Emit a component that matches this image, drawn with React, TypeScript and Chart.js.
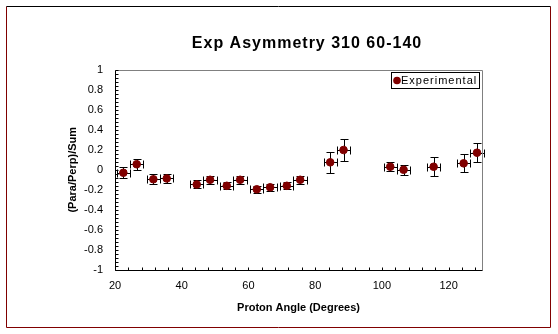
import React, { useEffect, useRef } from "react";
import { Chart, registerables } from "chart.js";

Chart.register(...registerables);

const chartTitle = "Exp Asymmetry 310 60-140";
const seriesLabel = "Experimental";
const xAxisTitle = "Proton Angle (Degrees)";
const yAxisTitle = "(Para/Perp)/Sum";

const angles = [22.5, 26.5, 31.5, 35.5, 44.5, 48.5, 53.5, 57.5, 62.5, 66.5, 71.5, 75.5, 84.5, 88.5, 102.5, 106.5, 115.5, 124.5, 128.5];
const asymmetry = [-0.03, 0.055, -0.095, -0.087, -0.147, -0.1, -0.16, -0.1, -0.195, -0.175, -0.16, -0.1, 0.074, 0.197, 0.03, 0.0, 0.03, 0.064, 0.17];
const asymErr = [0.055, 0.055, 0.05, 0.045, 0.04, 0.04, 0.035, 0.04, 0.035, 0.035, 0.035, 0.04, 0.105, 0.105, 0.045, 0.05, 0.095, 0.09, 0.095];
const angleErr = [2, 2, 2, 2, 2, 2, 2, 2, 2, 2, 2, 2, 2, 2, 2, 2, 2, 2, 2];

const xMin = 20;
const xMax = 130;
const xStep = 20;
const xMinorStep = 4;
const yMin = -1;
const yMax = 1;
const yStep = 0.2;
const yMinorStep = 0.04;

const FONT = "'Liberation Sans', Arial, sans-serif";
const MARKER = "#800000";

const decorPlugin = {
  id: "decor",
  beforeDraw(chart: any) {
    const ctx = chart.ctx;
    ctx.save();
    ctx.fillStyle = "#fff";
    ctx.fillRect(0, 0, chart.width, chart.height);
    ctx.restore();
  },
  beforeDatasetsDraw(chart: any) {
    const ctx = chart.ctx;
    const xs = chart.scales.x;
    const ys = chart.scales.y;
    ctx.save();
    ctx.strokeStyle = "#000";
    ctx.lineWidth = 1;
    const cap = 4;
    angles.forEach((a, i) => {
      const px = Math.round(xs.getPixelForValue(a)) + 0.5;
      const py = Math.round(ys.getPixelForValue(asymmetry[i])) + 0.5;
      const y1 = Math.round(ys.getPixelForValue(asymmetry[i] + asymErr[i])) + 0.5;
      const y2 = Math.round(ys.getPixelForValue(asymmetry[i] - asymErr[i])) + 0.5;
      const x1 = Math.round(xs.getPixelForValue(a - angleErr[i])) + 0.5;
      const x2 = Math.round(xs.getPixelForValue(a + angleErr[i])) + 0.5;
      ctx.beginPath();
      ctx.moveTo(px, y1); ctx.lineTo(px, y2);
      ctx.moveTo(px - cap, y1); ctx.lineTo(px + cap, y1);
      ctx.moveTo(px - cap, y2); ctx.lineTo(px + cap, y2);
      ctx.moveTo(x1, py); ctx.lineTo(x2, py);
      ctx.moveTo(x1, py - cap); ctx.lineTo(x1, py + cap);
      ctx.moveTo(x2, py - cap); ctx.lineTo(x2, py + cap);
      ctx.stroke();
    });
    ctx.restore();
  },
  afterDraw(chart: any) {
    const ctx = chart.ctx;
    const { left, right, top, bottom } = chart.chartArea;
    const xs = chart.scales.x;
    const ys = chart.scales.y;
    ctx.save();
    const L = Math.round(left) + 0.5;
    const R = Math.round(right) + 0.5;
    const T = Math.round(top) + 0.5;
    const B = Math.round(bottom) + 0.5;
    // plot frame
    ctx.lineWidth = 1;
    ctx.strokeStyle = "#808080";
    ctx.beginPath();
    ctx.moveTo(L, T); ctx.lineTo(R, T); ctx.lineTo(R, B);
    ctx.stroke();
    ctx.strokeStyle = "#000";
    ctx.beginPath();
    ctx.moveTo(L, T); ctx.lineTo(L, B); ctx.lineTo(R, B);
    ctx.stroke();
    // inside ticks
    ctx.beginPath();
    for (let v = xMin; v <= xMax + 1e-9; v += xMinorStep) {
      const px = Math.round(xs.getPixelForValue(v)) + 0.5;
      ctx.moveTo(px, B); ctx.lineTo(px, B - 3);
    }
    for (let k = 0; k <= Math.round((yMax - yMin) / yMinorStep); k++) {
      const v = yMin + k * yMinorStep;
      const py = Math.round(ys.getPixelForValue(v)) + 0.5;
      ctx.moveTo(L, py); ctx.lineTo(L + 3, py);
    }
    ctx.stroke();
    // outer frame
    ctx.strokeStyle = MARKER;
    ctx.beginPath();
    ctx.moveTo(6.5, 6.5); ctx.lineTo(6.5, 327.5); ctx.lineTo(550.5, 327.5); ctx.lineTo(550.5, 6.5);
    ctx.stroke();
    ctx.strokeStyle = "#000";
    ctx.beginPath();
    ctx.moveTo(6.5, 6.5); ctx.lineTo(550.5, 6.5);
    ctx.stroke();
    // title
    ctx.fillStyle = "#000";
    ctx.font = `bold 16px ${FONT}`;
    (ctx as any).letterSpacing = "1px";
    ctx.textAlign = "center";
    ctx.textBaseline = "alphabetic";
    ctx.fillText(chartTitle, 307, 48);
    // legend
    (ctx as any).letterSpacing = "1px";
    ctx.fillStyle = "#fff";
    ctx.fillRect(391, 72, 88, 16);
    ctx.strokeStyle = "#000";
    ctx.strokeRect(391.5, 72.5, 88, 16);
    ctx.fillStyle = MARKER;
    ctx.beginPath();
    ctx.arc(397, 80.5, 3.8, 0, Math.PI * 2);
    ctx.fill();
    ctx.fillStyle = "#000";
    ctx.font = `11px ${FONT}`;
    ctx.textAlign = "left";
    ctx.textBaseline = "middle";
    ctx.fillText(seriesLabel, 401, 81);
    ctx.restore();
  },
};

export default function App() {
  const ref = useRef<HTMLCanvasElement | null>(null);
  useEffect(() => {
    if (!ref.current) return;
    const chart = new Chart(ref.current, {
      type: "scatter",
      data: {
        datasets: [
          {
            label: seriesLabel,
            data: angles.map((a, i) => ({ x: a, y: asymmetry[i] })),
            backgroundColor: MARKER,
            borderColor: MARKER,
            pointRadius: 3.8,
            pointHoverRadius: 3.8,
            pointStyle: "circle",
          },
        ],
      },
      options: {
        responsive: false,
        animation: false,
        layout: { padding: { left: 0, right: 76, top: 69.5, bottom: 0 } },
        plugins: {
          legend: { display: false },
          tooltip: { enabled: false },
          title: { display: false },
        },
        scales: {
          x: {
            type: "linear",
            min: xMin,
            max: xMax,
            afterBuildTicks: (s: any) => {
              s.ticks = s.ticks.filter((t: any) => t.value % xStep === 0);
            },
            afterFit: (s: any) => {
              s.height = 64;
            },
            ticks: {
              stepSize: xStep,
              autoSkip: false,
              maxRotation: 0,
              padding: 9,
              color: "#000",
              font: { family: FONT, size: 11 },
            },
            grid: { display: false, drawTicks: false },
            border: { display: false },
            title: {
              display: true,
              text: xAxisTitle,
              color: "#000",
              font: { family: FONT, size: 11, weight: "bold" },
              padding: { top: 0, bottom: 19 },
            },
          },
          y: {
            type: "linear",
            min: yMin,
            max: yMax,
            afterFit: (s: any) => {
              s.width = 115;
            },
            ticks: {
              stepSize: yStep,
              padding: 12,
              color: "#000",
              font: { family: FONT, size: 11 },
              callback: (v: any) => String(Number(Number(v).toFixed(1))),
            },
            grid: { display: false, drawTicks: false },
            border: { display: false },
            title: {
              display: true,
              text: yAxisTitle,
              color: "#000",
              font: { family: FONT, size: 11, weight: "bold" },
              padding: { top: 66, bottom: 0 },
            },
          },
        },
      },
      plugins: [decorPlugin],
    } as any);
    return () => chart.destroy();
  }, []);
  return (
    <div style={{ position: "absolute", left: 0, top: 0, width: 558, height: 334 }}>
      <canvas ref={ref} width={558} height={334} style={{ display: "block" }} />
    </div>
  );
}
